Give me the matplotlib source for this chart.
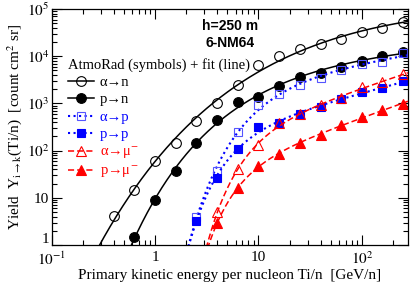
import numpy as np
import matplotlib
matplotlib.use("Agg")
import matplotlib.pyplot as plt
import matplotlib.transforms as mtransforms
from matplotlib.ticker import LogLocator, FixedLocator, NullFormatter

plt.rcParams['font.family'] = ['Liberation Serif', 'DejaVu Serif']
plt.rcParams['mathtext.fontset'] = 'stix'

# kinetic energy per nucleon grid (GeV/n)
energy = [0.4, 0.63, 1.0, 1.58, 2.5, 4.0, 6.3, 10, 15.8, 25, 40, 63, 100, 158, 251]

# yields (count cm^2 sr)
alpha_n = [4.2, 14.5, 60, 145, 430, 1000, 2500, 6500, 10300, 14500, 18000, 23500, 32000, 40000, 53000]
p_n = [None, 1.5, 9, 37, 143, 445, 1090, 1350, 2370, 3700, 4500, 6000, 8000, 10200, 12400]
alpha_p = [None, None, None, None, 3.9, 38, 250, 920, 1600, 2500, 3400, 5100, 6700, 7400, 11500]
p_p = [None, None, None, None, 3.3, 27, 108, 320, 380, 600, 850, 1220, 1720, 2100, 2950]
alpha_mu = [None, None, None, None, None, 5.0, 40, 135, 380, 600, 920, 1280, 2200, 2800, 4300]
p_mu = [None, None, None, None, None, 3.0, 16, 48, 85, 147, 214, 350, 520, 725, 970]

labels = ['α→n', 'p→n', 'α→p', 'p→p', r'α→μ$^{-}$', r'p→μ$^{-}$']


def fit_curve(e, y, egrid):
    # two candidate shapes, keep the one with the smaller log residual
    e = np.asarray(e, float)
    ly = np.log10(np.asarray(y, float))
    best = None
    # log10 Y = c0 + c1*log10(E) - a*E^-k
    for k in np.linspace(0.3, 6.0, 150):
        A = np.column_stack([np.ones_like(e), np.log10(e), -e ** -k])
        coef = np.linalg.lstsq(A, ly, rcond=None)[0]
        r = np.sum((A @ coef - ly) ** 2)
        if best is None or r < best[0]:
            best = (r, 'exp', k, coef)
    # log10 Y = c0 + c1*log10(E) + c2*log10(1 - E0/E)
    for f in np.linspace(0.3, 0.97, 150):
        e0 = f * e.min()
        A = np.column_stack([np.ones_like(e), np.log10(e), np.log10(1 - e0 / e)])
        coef = np.linalg.lstsq(A, ly, rcond=None)[0]
        r = np.sum((A @ coef - ly) ** 2)
        if r < best[0]:
            best = (r, 'thr', e0, coef)
    _, kind, p, c = best
    if kind == 'exp':
        return 10 ** (c[0] + c[1] * np.log10(egrid) - c[2] * egrid ** -p)
    out = np.full_like(egrid, np.nan)
    m = egrid > p
    out[m] = 10 ** (c[0] + c[1] * np.log10(egrid[m]) + c[2] * np.log10(1 - p / egrid[m]))
    return out


fig = plt.figure(figsize=(4.15, 2.83), dpi=100)
ax = fig.add_axes([0.125, 0.134, 0.858, 0.834])

black = 'black'
blue = '#0000ff'
red = '#ff0000'
series = [
    (alpha_n, black, '-', 'o', 'none', black),
    (p_n, black, '-', 'o', black, black),
    (alpha_p, blue, ':', 's', 'none', '#5555ff'),
    (p_p, blue, ':', 's', blue, blue),
    (alpha_mu, red, (0, (4, 2)), '^', 'none', red),
    (p_mu, red, (0, (4, 2)), '^', red, red),
]

egrid = np.logspace(-1, np.log10(280), 800)
handles = []
for (vals, col, ls, mk, fc, ec), lab in zip(series, labels):
    pairs = [(e, v) for e, v in zip(energy, vals) if v is not None]
    ex = [p[0] for p in pairs]
    vy = [p[1] for p in pairs]
    lw = 1.5 if ls == ':' else 1.1
    ax.plot(egrid, fit_curve(ex, vy, egrid), color=col, ls=ls, lw=lw)
    ms = 7 if mk == 'o' else (5.5 if mk == 's' else 6.5)
    ax.plot(ex, vy, ls='none', marker=mk, ms=ms, mfc=fc, mec=ec, mew=0.8)
    h, = ax.plot([], [], color=col, ls=ls, lw=lw, marker=mk, ms=ms, mfc=fc, mec=ec, mew=0.8)
    handles.append(h)

ax.set_xscale('log')
ax.set_yscale('log')
ax.set_xlim(0.1, 280)
ax.set_ylim(1, 1e5)

ax.xaxis.set_major_locator(FixedLocator([0.1, 1, 10, 100]))
ax.set_xticklabels([r'$10^{-1}$', '1', '10', r'$10^{2}$'])
ax.yaxis.set_major_locator(FixedLocator([1, 10, 100, 1e3, 1e4, 1e5]))
ax.set_yticklabels(['1', '10', r'$10^{2}$', r'$10^{3}$', r'$10^{4}$', r'$10^{5}$'])
ax.xaxis.set_minor_locator(LogLocator(base=10, subs=np.arange(2, 10)))
ax.yaxis.set_minor_locator(LogLocator(base=10, subs=np.arange(2, 10)))
ax.xaxis.set_minor_formatter(NullFormatter())
ax.yaxis.set_minor_formatter(NullFormatter())
ax.tick_params(which='both', direction='in', top=True, right=True, labelsize=11, width=0.8)
ax.tick_params(which='major', length=7)
ax.tick_params(which='minor', length=3.5)
ax.tick_params(axis='x', pad=4)
ax.tick_params(axis='y', pad=2)
for s in ax.spines.values():
    s.set_linewidth(0.9)

# nudge the lowest y label up so it clears the 10^-1 x label
lab0 = ax.get_yticklabels()[0]
lab0.set_transform(lab0.get_transform() + mtransforms.ScaledTranslation(0, 5 / 72, fig.dpi_scale_trans))

ax.set_xlabel('Primary kinetic energy per nucleon Ti/n  [GeV/n]', fontsize=11, labelpad=1)
ax.set_ylabel(r'Yield  Y$_{\mathrm{i}\rightarrow\mathrm{k}}$(Ti/n)  [count cm$^2$ sr]', fontsize=11, labelpad=2)

ax.text(0.5, 0.93, 'h=250 m', transform=ax.transAxes, ha='center', va='center',
        fontsize=10, fontweight='bold', family='Liberation Sans')
ax.text(0.5, 0.855, '6-NM64', transform=ax.transAxes, ha='center', va='center',
        fontsize=10, fontweight='bold', family='Liberation Sans')

leg = ax.legend(handles, labels, title='AtmoRad (symbols) + fit (line)', loc='upper left',
                bbox_to_anchor=(0.02, 0.83), frameon=False, fontsize=10.5, title_fontsize=10.5,
                handlelength=1.8, handletextpad=0.4, labelspacing=0.28, borderpad=0.1)
leg._legend_box.align = 'left'
for t, (vals, col, *_r) in zip(leg.get_texts(), series):
    t.set_color(col)

fig.savefig('out.png', dpi=100)
